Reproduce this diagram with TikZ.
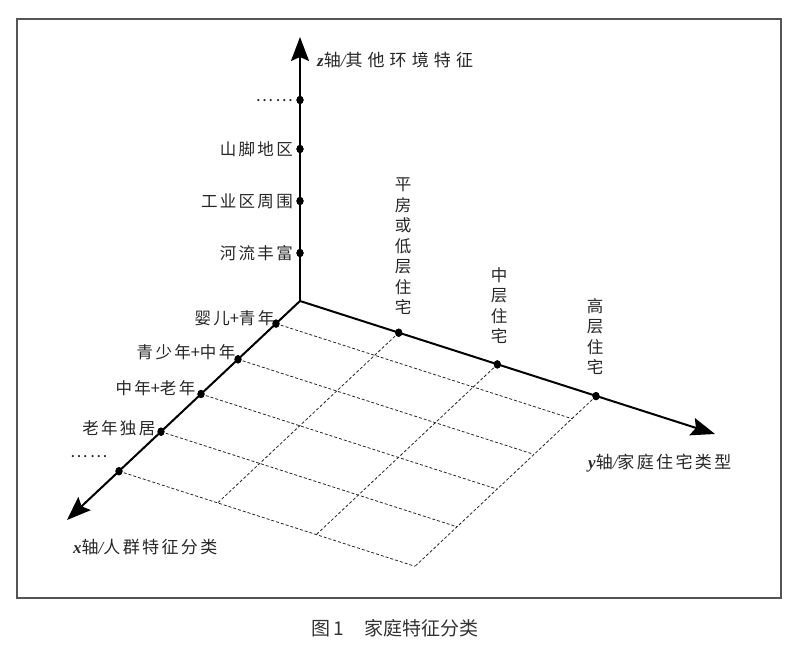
\documentclass[tikz,border=0pt]{standalone}
\usepackage{fontspec}
\setmainfont{Liberation Serif}
\newfontfamily\cjk[LetterSpace=14]{Noto Sans CJK SC}
\newfontfamily\cjkw[LetterSpace=30]{Noto Sans CJK SC}
\newfontfamily\cjkv{Noto Sans CJK SC}
\usetikzlibrary{arrows.meta,shapes.geometric}
\definecolor{txt}{HTML}{262626}
\definecolor{framec}{HTML}{555555}
\definecolor{capc}{HTML}{333333}
\newcommand{\pl}{{\cjkv +}}
\begin{document}
\begin{tikzpicture}[x=1pt,y=-1pt,
  axis/.style={line width=2pt, -{Stealth[length=24pt,width=18pt,inset=4pt]}},
  dot/.style={ellipse, fill=black, inner sep=0pt, minimum width=7pt, minimum height=8pt},
  gridline/.style={dash pattern=on 3pt off 2pt, line width=0.8pt, black!85},
  lab/.style={text=txt, font=\cjk\fontsize{16.5}{18}\selectfont, inner sep=0pt},
  axlab/.style={text=txt, font=\cjk\fontsize{17}{18}\selectfont, inner sep=0pt, anchor=west},
  vlab/.style={text=txt, font=\cjkv\fontsize{16.5}{20.5}\selectfont, align=center, inner sep=0pt, anchor=north},
  captxt/.style={text=capc, font=\cjkv\fontsize{19}{20}\selectfont, inner sep=0pt},
]
\useasboundingbox (0,0) rectangle (800,656);
\draw[framec, line width=1.3pt] (17,19) rectangle (781,598);

% key points
\coordinate (O) at (300,301);
\coordinate (zT) at (300,37);
\coordinate (yT) at (715,434);
\coordinate (xT) at (67,520);

% grid ends
\coordinate (p1e) at (572,418.7);
\coordinate (p2e) at (534,454.4);
\coordinate (p3e) at (497,489.1);
\coordinate (p4e) at (457,526.8);
\coordinate (p5e) at (415,566.3);
\coordinate (y1e) at (217.7,502.9);
\coordinate (y2e) at (316.3,534.6);

% dots as nodes
\node[dot] (z1) at (300,253) {};
\node[dot] (z2) at (300,201) {};
\node[dot] (z3) at (300,149) {};
\node[dot] (z4) at (300,100) {};
\node[dot] (y1) at (398.7,332.7) {};
\node[dot] (y2) at (497.3,364.4) {};
\node[dot] (y3) at (596,396.1) {};
\node[dot] (p1) at (276,323.6) {};
\node[dot] (p2) at (238,359.3) {};
\node[dot] (p3) at (201,394) {};
\node[dot] (p4) at (161,431.7) {};
\node[dot] (p5) at (119,471.2) {};

% dashed grid
\draw[gridline] (p1.center) -- (p1e);
\draw[gridline] (p2.center) -- (p2e);
\draw[gridline] (p3.center) -- (p3e);
\draw[gridline] (p4.center) -- (p4e);
\draw[gridline] (p5.center) -- (p5e);
\draw[gridline] (y1.center) -- (y1e);
\draw[gridline] (y2.center) -- (y2e);
\draw[gridline] (y3.center) -- (p5e);

% axes
\draw[axis] (O) -- (zT);
\draw[axis] (O) -- (yT);
\draw[axis] (O) -- (xT);

% redraw dots on top
\foreach \n in {z1,z2,z3,z4,y1,y2,y3,p1,p2,p3,p4,p5}
  \fill (\n) ellipse (3.6pt and 4.2pt);

% z labels
\node[lab, anchor=east] (lz1) at (293,253) {河流丰富};
\node[lab, anchor=east] (lz2) at (293,201) {工业区周围};
\node[lab, anchor=east] (lz3) at (293,149) {山脚地区};
\node[lab, anchor=east] (lz4) at (293,101) {……};

% x labels
\node[lab, anchor=east] (lx1) at (274.5,318) {婴儿\pl 青年};
\node[lab, anchor=east] (lx2) at (235.5,352) {青少年\pl 中年};
\node[lab, anchor=east] (lx3) at (195.5,388) {中年\pl 老年};
\node[lab, anchor=east] (lx4) at (155.5,428) {老年独居};
\node[lab, anchor=east] (lx5) at (107.5,457) {……};

% y labels (vertical)
\node[vlab] (ly1) at (403,178) {平\\房\\或\\低\\层\\住\\宅};
\node[vlab] (ly2) at (499,267) {中\\层\\住\\宅};
\node[vlab] (ly3) at (595,298) {高\\层\\住\\宅};

% axis labels
\node[axlab, font=\cjkw\fontsize{17}{18}\selectfont] (zlab) at (317,60) {{\rmfamily\bfseries\itshape z}轴{\rmfamily\itshape /}其他环境特征};
\node[axlab] (ylab) at (588,463) {{\rmfamily\bfseries\itshape y}轴{\rmfamily\itshape /}家庭住宅类型};
\node[axlab] (xlab) at (73,547) {{\rmfamily\bfseries\itshape x}轴{\rmfamily\itshape /}人群特征分类};

% caption
\node[captxt] (cap) at (395,628) {图\,1\hspace{20pt}家庭特征分类};
\end{tikzpicture}
\end{document}
